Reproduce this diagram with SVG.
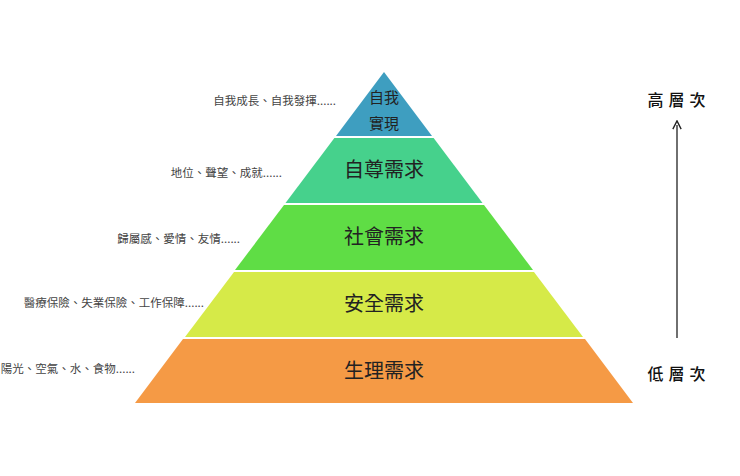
<svg xmlns="http://www.w3.org/2000/svg" width="740" height="476" viewBox="0 0 740 476">
<style>
.lv{stroke:none}
.t{font-family:"Noto Sans CJK TC","Noto Sans CJK SC",sans-serif;font-size:20px;fill:#222;text-anchor:middle}
.t2{font-family:"Noto Sans CJK TC","Noto Sans CJK SC",sans-serif;font-size:15px;fill:#222;text-anchor:middle}
.n{font-family:"Noto Sans CJK TC","Noto Sans CJK SC",sans-serif;font-size:11.5px;fill:#444;text-anchor:end}
.s{font-family:"Noto Sans CJK TC","Noto Sans CJK SC",sans-serif;font-size:16px;fill:#111;text-anchor:middle;letter-spacing:5px;font-weight:500}
</style>
<defs><marker id="ah" viewBox="0 0 10 10" refX="5" refY="5" markerWidth="8" markerHeight="8" orient="auto"><path d="M1,1 L9,5 L1,9" fill="none" stroke="#222" stroke-width="1.3"/></marker></defs>
<rect width="740" height="476" fill="#fff"/>
<g id="level5"><polygon class="lv" fill="#3E9EC0" points="384,72 432,136 336,136"/><text class="t2" x="384" y="103">自我</text><text class="t2" x="384" y="129">實現</text><text class="n" x="336" y="105">自我成長、自我發揮......</text></g>
<g id="level4"><polygon class="lv" fill="#46D18C" points="334.4,138 433.6,138 482.5,203 285.5,203"/><text class="t" x="384" y="177">自尊需求</text><text class="n" x="282" y="177">地位、聲望、成就......</text></g>
<g id="level3"><polygon class="lv" fill="#5FDD45" points="284,205 484,205 533,270 235,270"/><text class="t" x="384" y="244">社會需求</text><text class="n" x="240" y="243">歸屬感、愛情、友情......</text></g>
<g id="level2"><polygon class="lv" fill="#D6EA48" points="234,272 534,272 583,337 185,337"/><text class="t" x="384" y="311">安全需求</text><text class="n" x="204" y="307">醫療保險、失業保險、工作保障......</text></g>
<g id="level1"><polygon class="lv" fill="#F59A45" points="183,339 585,339 633,403 135,403"/><text class="t" x="384" y="378">生理需求</text><text class="n" x="135" y="373">陽光、空氣、水、食物......</text></g>
<g id="connectors"><line x1="677" y1="338" x2="677" y2="125" stroke="#222" stroke-width="1.3" marker-end="url(#ah)"/></g>
<g id="high"><text class="s" x="679" y="106">高層次</text></g>
<g id="low"><text class="s" x="679" y="380">低層次</text></g>
</svg>
